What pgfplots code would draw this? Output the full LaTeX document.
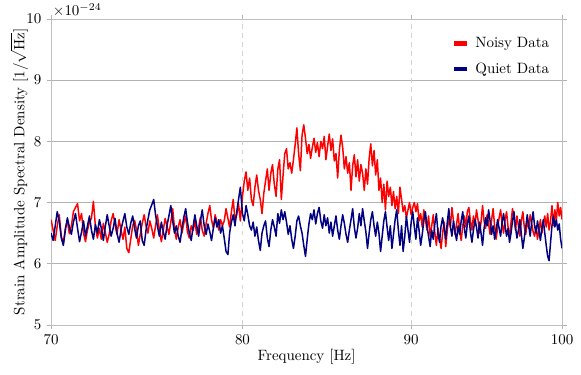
\documentclass[border=0pt]{standalone}
\usepackage{pgfplots}
\usepackage{pgfplotstable}
\pgfplotsset{compat=1.18}
\pgfplotstableread{
f n q
70.0 6.72 6.50
70.1 6.55 6.38
70.2 6.38 6.62
70.3 6.62 6.85
70.4 6.80 6.70
70.5 6.45 6.42
70.6 6.33 6.30
70.7 6.58 6.55
70.8 6.70 6.75
70.9 6.49 6.60
71.0 6.62 6.48
71.1 6.85 6.68
71.2 6.92 6.82
71.3 6.98 6.58
71.4 6.70 6.36
71.5 6.82 6.52
71.6 6.50 6.70
71.7 6.36 6.45
71.8 6.55 6.62
71.9 6.68 6.78
72.0 6.74 6.55
72.1 7.02 6.40
72.2 6.60 6.64
72.3 6.42 6.50
72.4 6.58 6.72
72.5 6.40 6.58
72.6 6.66 6.38
72.7 6.52 6.60
72.8 6.35 6.80
72.9 6.48 6.62
73.0 6.70 6.45
73.1 6.82 6.58
73.2 6.64 6.74
73.3 6.48 6.50
73.4 6.72 6.35
73.5 6.55 6.56
73.6 6.40 6.70
73.7 6.60 6.82
73.8 6.25 6.60
73.9 6.18 6.48
74.0 6.40 6.66
74.1 6.62 6.78
74.2 6.71 6.58
74.3 6.55 6.42
74.4 6.30 6.62
74.5 6.48 6.70
74.6 6.66 6.38
74.7 6.80 6.30
74.8 6.62 6.55
74.9 6.50 6.72
75.0 6.70 6.88
75.1 6.58 6.96
75.2 6.42 7.05
75.3 6.62 6.80
75.4 6.80 6.62
75.5 6.56 6.45
75.6 6.36 6.68
75.7 6.55 6.52
75.8 6.74 6.40
75.9 6.62 6.62
76.0 6.48 6.78
76.1 6.68 6.95
76.2 6.90 6.70
76.3 6.58 6.50
76.4 6.40 6.62
76.5 6.60 6.45
76.6 6.72 6.35
76.7 6.50 6.58
76.8 6.66 6.76
76.9 6.78 6.90
77.0 6.52 6.68
77.1 6.42 6.50
77.2 6.62 6.38
77.3 6.54 6.60
77.4 6.70 6.80
77.5 6.48 6.62
77.6 6.60 6.45
77.7 6.76 6.70
77.8 6.55 6.88
77.9 6.45 6.62
78.0 6.66 6.48
78.1 6.82 6.65
78.2 6.95 6.52
78.3 6.72 6.38
78.4 6.58 6.58
78.5 6.80 6.75
78.6 6.68 6.60
78.7 6.55 6.72
78.8 6.72 6.50
78.9 6.62 6.62
79.0 6.70 6.42
79.1 6.90 6.20
79.2 6.74 6.15
79.3 6.60 6.50
79.4 6.85 6.68
79.5 7.05 6.80
79.6 6.72 6.62
79.7 6.80 6.85
79.8 6.98 7.05
79.9 6.70 7.25
80.0 7.10 6.82
80.1 7.35 6.70
80.2 7.50 6.95
80.3 7.20 6.80
80.4 7.40 6.62
80.5 7.05 6.55
80.6 6.95 6.68
80.7 7.25 6.45
80.8 7.45 6.60
80.9 7.20 6.38
81.0 7.05 6.22
81.1 6.82 6.50
81.2 7.15 6.62
81.3 7.35 6.70
81.4 7.55 6.42
81.5 7.20 6.28
81.6 7.48 6.55
81.7 7.62 6.72
81.8 7.30 6.60
81.9 7.10 6.45
82.0 7.55 6.82
82.1 7.70 6.66
82.2 7.05 6.88
82.3 7.45 6.72
82.4 7.80 6.85
82.5 7.88 6.68
82.6 7.55 6.48
82.7 7.65 6.62
82.8 7.48 6.40
82.9 7.70 6.25
83.0 7.95 6.45
83.1 8.22 6.70
83.2 7.80 6.78
83.3 7.52 6.62
83.4 8.10 6.50
83.5 8.27 6.30
83.6 8.05 6.12
83.7 7.80 6.40
83.8 7.95 6.65
83.9 7.72 6.82
84.0 7.90 6.72
84.1 8.05 6.88
84.2 7.82 6.65
84.3 7.98 6.82
84.4 7.75 6.92
84.5 8.00 6.70
84.6 7.88 6.58
84.7 8.08 6.80
84.8 7.70 6.62
84.9 7.92 6.75
85.0 8.12 6.50
85.1 7.85 6.68
85.2 8.04 6.45
85.3 7.68 6.62
85.4 7.80 6.78
85.5 7.40 6.55
85.6 7.85 6.40
85.7 8.10 6.62
85.8 7.90 6.80
85.9 7.55 6.66
86.0 7.75 6.48
86.1 7.48 6.35
86.2 7.65 6.55
86.3 7.20 6.72
86.4 7.60 6.90
86.5 7.78 6.60
86.6 7.42 6.42
86.7 7.70 6.58
86.8 7.35 6.82
86.9 7.62 6.62
87.0 7.48 6.90
87.1 7.20 6.70
87.2 7.55 6.52
87.3 7.30 6.25
87.4 7.72 6.50
87.5 7.96 6.72
87.6 7.60 6.85
87.7 7.85 6.62
87.8 7.45 6.45
87.9 7.70 6.68
88.0 7.20 6.50
88.1 7.40 6.20
88.2 7.00 6.45
88.3 7.30 6.70
88.4 6.88 6.85
88.5 7.35 6.60
88.6 7.10 6.38
88.7 7.25 6.62
88.8 6.95 6.25
88.9 7.18 6.48
89.0 6.90 6.72
89.1 7.10 6.88
89.2 6.82 6.55
89.3 7.25 6.30
89.4 7.05 6.62
89.5 6.85 6.20
89.6 6.95 6.45
89.7 6.75 6.78
89.8 6.88 6.55
89.9 7.00 6.35
90.0 6.80 6.68
90.1 6.92 6.85
90.2 7.00 6.60
90.3 6.85 6.40
90.4 6.98 6.75
90.5 6.70 6.55
90.6 6.82 6.30
90.7 6.60 6.48
90.8 6.88 6.70
90.9 6.72 6.85
91.0 6.55 6.62
91.1 6.78 6.45
91.2 6.45 6.28
91.3 6.62 6.55
91.4 6.80 6.40
91.5 6.50 6.65
91.6 6.30 6.82
91.7 6.58 6.50
91.8 6.42 6.35
91.9 6.25 6.62
92.0 6.50 6.75
92.1 6.68 6.58
92.2 6.28 6.40
92.3 6.55 6.68
92.4 6.75 6.90
92.5 6.60 6.60
92.6 6.92 6.45
92.7 6.70 6.70
92.8 6.48 6.52
92.9 6.65 6.38
93.0 6.82 6.62
93.1 6.55 6.48
93.2 6.38 6.70
93.3 6.62 6.85
93.4 6.78 6.58
93.5 6.60 6.42
93.6 6.85 6.65
93.7 6.92 6.78
93.8 6.70 6.52
93.9 6.55 6.35
94.0 6.78 6.55
94.1 6.62 6.72
94.2 6.88 6.60
94.3 6.72 6.42
94.4 6.50 6.68
94.5 6.68 6.50
94.6 6.95 6.30
94.7 6.70 6.58
94.8 6.58 6.75
94.9 6.80 6.62
95.0 6.65 6.88
95.1 6.48 6.70
95.2 6.72 6.48
95.3 6.90 6.62
95.4 6.62 6.40
95.5 6.40 6.55
95.6 6.58 6.72
95.7 6.75 6.58
95.8 6.88 6.45
95.9 6.65 6.68
96.0 6.50 6.82
96.1 6.72 6.62
96.2 6.85 6.45
96.3 6.60 6.58
96.4 6.42 6.35
96.5 6.68 6.50
96.6 6.90 6.70
96.7 6.75 6.85
96.8 6.55 6.60
96.9 6.78 6.42
97.0 6.62 6.55
97.1 6.45 6.72
97.2 6.70 6.48
97.3 6.85 6.25
97.4 6.60 6.42
97.5 6.48 6.60
97.6 6.72 6.80
97.7 6.58 6.62
97.8 6.80 6.45
97.9 6.66 6.68
98.0 6.52 6.85
98.1 6.45 6.62
98.2 6.62 6.50
98.3 6.40 6.70
98.4 6.55 6.55
98.5 6.72 6.38
98.6 6.50 6.58
98.7 6.65 6.72
98.8 6.78 6.50
98.9 6.60 6.30
99.0 6.82 6.12
99.1 6.55 6.05
99.2 6.70 6.35
99.3 6.95 6.62
99.4 6.62 6.78
99.5 6.88 6.60
99.6 6.70 6.72
99.7 7.00 6.55
99.8 6.78 6.65
99.9 6.92 6.40
100.0 6.72 6.25
}\datatable
\definecolor{navyblue}{RGB}{0,0,128}
\begin{document}
\begin{tikzpicture}
\begin{axis}[
  name=main,
  scale only axis,
  width=341.6pt, height=204.5pt,
  xmode=log,
  xmin=70, xmax=100, ymin=5, ymax=10,
  xtick={70,80,90,100},
  xticklabels={70,80,90,100},
  minor xtick={},
  ytick={5,6,7,8,9,10},
  ymajorgrids,
  major grid style={gray!60, line width=0.5pt},
  extra x ticks={80,90},
  extra x tick labels={},
  extra x tick style={grid=major, major grid style={gray!35, dashed, line width=0.5pt}, major tick length=0pt},
  tick align=outside,
  major tick length=3pt,
  tick style={gray!60, line width=0.5pt},
  axis line style={gray!50, line width=0.5pt},
  xlabel={Frequency [Hz]},
  ylabel={Strain Amplitude Spectral Density [$1/\sqrt{\mathrm{Hz}}$]},
  xlabel style={at={(axis description cs:0.5,-0.104)}, anchor=center},
  ylabel style={at={(axis description cs:-0.062,0.5)}, anchor=center},
  legend style={at={(0.99,0.96)}, anchor=north east, draw=none, fill=none, row sep=4.5pt},
  legend cell align=left,
  legend image code/.code={\draw[line width=3pt] (0cm,0cm) -- (0.3cm,0cm); \path (0.42cm,0cm);},
  clip mode=individual,
]
\addplot[red, line width=1pt, line join=round] table[x=f, y=n] {\datatable};
\addlegendentry{Noisy Data}
\addplot[navyblue, line width=1pt, line join=round] table[x=f, y=q] {\datatable};
\addlegendentry{Quiet Data}
\node[anchor=south west, inner sep=1pt] at (rel axis cs:0,1) {$\times10^{-24}$};
\end{axis}
\pgfresetboundingbox
\path ([shift={(-34.1pt,-33.4pt)}]main.south west) rectangle ([shift={(12.7pt,12.7pt)}]main.north east);
\end{tikzpicture}
\end{document}
